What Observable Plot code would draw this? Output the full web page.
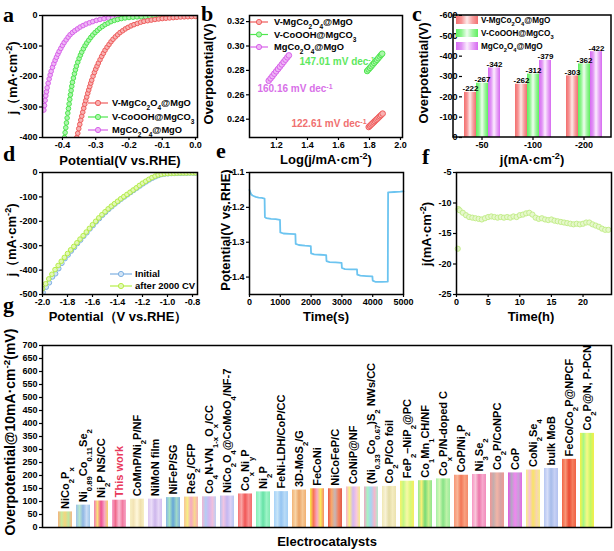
<!DOCTYPE html>
<html><head><meta charset="utf-8">
<script src="https://cdn.jsdelivr.net/npm/d3@7"></script>
<script src="https://cdn.jsdelivr.net/npm/@observablehq/plot@0.6"></script>
<style>
body{margin:0;background:#fff;}
#wrap{position:relative;width:614px;height:551px;overflow:hidden;background:#fff;}
</style></head><body><div id="wrap"></div><script>
// ---------------- DATA ----------------
// panel a: LSV curves [potential V, j mA/cm2]
const aRed = [[-0.357,-400],[-0.354,-386],[-0.351,-371],[-0.348,-357],[-0.345,-343],[-0.342,-330],[-0.339,-317],[-0.336,-304],[-0.333,-291],[-0.330,-279],[-0.327,-267],[-0.324,-255],[-0.321,-244],[-0.318,-233],[-0.315,-222],[-0.312,-212],[-0.308,-199],[-0.304,-187],[-0.300,-176],[-0.296,-166],[-0.292,-156],[-0.287,-145],[-0.282,-134],[-0.277,-124],[-0.272,-114],[-0.266,-104],[-0.260,-95],[-0.254,-86],[-0.248,-78],[-0.241,-70],[-0.234,-63],[-0.227,-56],[-0.219,-50],[-0.211,-44],[-0.203,-39],[-0.194,-34],[-0.185,-30],[-0.175,-26],[-0.165,-22],[-0.155,-19],[-0.144,-17],[-0.133,-15],[-0.122,-13],[-0.111,-11.5],[-0.100,-10],[-0.089,-9],[-0.078,-8],[-0.067,-7],[-0.056,-6],[-0.045,-5],[-0.034,-4.5],[-0.023,-4],[-0.012,-3.5],[0.0,-3]];
const aGreen = [[-0.394,-400],[-0.392,-384],[-0.390,-368],[-0.388,-352],[-0.386,-336],[-0.384,-320],[-0.382,-305],[-0.380,-290],[-0.378,-275],[-0.376,-260],[-0.374,-246],[-0.372,-232],[-0.370,-219],[-0.367,-205],[-0.364,-191],[-0.361,-178],[-0.358,-166],[-0.354,-153],[-0.350,-141],[-0.346,-130],[-0.342,-120],[-0.337,-109],[-0.332,-99],[-0.327,-90],[-0.321,-81],[-0.315,-72],[-0.309,-64],[-0.302,-56],[-0.295,-49],[-0.288,-42],[-0.280,-36],[-0.272,-30],[-0.263,-25],[-0.254,-20],[-0.244,-16],[-0.234,-13],[-0.223,-10],[-0.212,-8],[-0.200,-6.5],[-0.188,-5.5],[-0.176,-4.5],[-0.163,-4],[-0.150,-3.5],[-0.137,-3],[-0.124,-3],[-0.111,-2.5],[-0.098,-2.5],[-0.085,-2],[-0.072,-2],[-0.059,-2],[-0.046,-1.5],[-0.033,-1.5],[-0.020,-1.5],[-0.007,-1],[0.0,-1]];
const aMag = [[-0.456,-310],[-0.454,-295],[-0.452,-278],[-0.450,-263],[-0.448,-250],[-0.446,-237],[-0.443,-222],[-0.440,-208],[-0.437,-195],[-0.434,-183],[-0.430,-170],[-0.426,-158],[-0.422,-147],[-0.418,-137],[-0.414,-127],[-0.410,-118],[-0.405,-108],[-0.400,-98],[-0.395,-89],[-0.389,-80],[-0.383,-71],[-0.377,-63],[-0.370,-56],[-0.363,-50],[-0.355,-44],[-0.347,-38],[-0.338,-33],[-0.329,-28],[-0.319,-24],[-0.309,-20],[-0.298,-16],[-0.287,-13],[-0.275,-10.5],[-0.262,-8.5],[-0.249,-7],[-0.236,-6],[-0.223,-5],[-0.210,-4.5],[-0.197,-4],[-0.184,-3.5],[-0.171,-3],[-0.158,-3],[-0.145,-2.5],[-0.132,-2.5],[-0.119,-2],[-0.106,-2],[-0.093,-2],[-0.080,-1.5],[-0.067,-1.5],[-0.054,-1.5],[-0.041,-1],[-0.028,-1],[-0.015,-1],[0.0,-1]];
const aXTicks = [-0.4,-0.3,-0.2,-0.1,0.0];
const aYTicks = [0,-100,-200,-300,-400];

// panel b: Tafel [log j, overpotential V]
const bRed = [[1.795,0.2336],[1.803,0.2346],[1.811,0.2356],[1.819,0.2365],[1.827,0.2375],[1.835,0.2385],[1.843,0.2395],[1.851,0.2404],[1.859,0.2414],[1.867,0.2424],[1.875,0.2434],[1.885,0.2446]];
const bGreen = [[1.785,0.2795],[1.794,0.2808],[1.803,0.2821],[1.812,0.2834],[1.821,0.2848],[1.830,0.2861],[1.839,0.2874],[1.848,0.2887],[1.857,0.2900],[1.866,0.2914],[1.875,0.2927],[1.882,0.2937]];
const bMag = [[1.150,0.2715],[1.162,0.2734],[1.174,0.2753],[1.186,0.2773],[1.198,0.2792],[1.210,0.2811],[1.222,0.2830],[1.234,0.2849],[1.246,0.2869],[1.258,0.2888],[1.270,0.2907],[1.280,0.2923]];
const bSlopes = ["122.61 mV dec^{-1}","147.01 mV dec^{-1}","160.16 mV dec^{-1}"];
const bXTicks = [1.2,1.4,1.6,1.8,2.0];
const bYTicks = [0.24,0.26,0.28,0.30,0.32];

// panel c: overpotentials at current densities
const seriesNames = ["V-MgCo_{2}O_{4}@MgO","V-CoOOH@MgCO_{3}","MgCo_{2}O_{4}@MgO"];
const cGroups = ["-50","-100","-200"];
const cRedVals = [-222,-262,-303];
const cGreenVals = [-267,-312,-362];
const cMagVals = [-342,-379,-422];
const cYTicks = [0,-100,-200,-300,-400,-500,-600];

// panel d: LSV before/after 2000 CV
const dInitial = [[-1.995,-492],[-1.970,-470],[-1.945,-452],[-1.920,-428],[-1.895,-415],[-1.870,-394],[-1.845,-372],[-1.820,-353],[-1.795,-338],[-1.770,-322],[-1.745,-307],[-1.720,-291],[-1.695,-277],[-1.670,-261],[-1.645,-247],[-1.620,-231],[-1.595,-217],[-1.570,-202],[-1.545,-189],[-1.520,-175],[-1.495,-163],[-1.470,-151],[-1.445,-140],[-1.420,-129],[-1.395,-119],[-1.370,-109],[-1.345,-100],[-1.320,-91],[-1.295,-82],[-1.270,-73],[-1.245,-64],[-1.220,-55],[-1.195,-46],[-1.170,-38],[-1.145,-30],[-1.120,-23],[-1.095,-17],[-1.070,-12],[-1.045,-8],[-1.020,-6],[-0.995,-5],[-0.970,-4],[-0.945,-3.5],[-0.920,-3],[-0.895,-3],[-0.870,-2.5],[-0.845,-2.5],[-0.820,-2],[-0.795,-2],[-0.775,-2]];
const dAfter = [[-2.000,-476],[-1.975,-456],[-1.950,-436],[-1.925,-417],[-1.900,-398],[-1.875,-381],[-1.850,-364],[-1.825,-348],[-1.800,-332],[-1.775,-317],[-1.750,-303],[-1.725,-288],[-1.700,-273],[-1.675,-259],[-1.650,-244],[-1.625,-229],[-1.600,-214],[-1.575,-200],[-1.550,-186],[-1.525,-173],[-1.500,-161],[-1.475,-149],[-1.450,-138],[-1.425,-128],[-1.400,-118],[-1.375,-108],[-1.350,-99],[-1.325,-90],[-1.300,-81],[-1.275,-72],[-1.250,-63],[-1.225,-53],[-1.200,-44],[-1.175,-36],[-1.150,-28],[-1.125,-21],[-1.100,-15],[-1.075,-10],[-1.050,-7],[-1.025,-5],[-1.000,-4],[-0.975,-3],[-0.950,-3],[-0.925,-2.5],[-0.900,-2],[-0.875,-2],[-0.850,-2],[-0.825,-1.5],[-0.800,-1.5],[-0.775,-1.5]];
const dXTicks = [-2.0,-1.8,-1.6,-1.4,-1.2,-1.0,-0.8];
const dYTicks = [0,-100,-200,-300,-400,-500];

// panel e: multi-step chronopotentiometry [time s, potential V]
const ePts = [[0,-1.150],[30,-1.158],[60,-1.163],[100,-1.166],[150,-1.168],[200,-1.170],[300,-1.172],[400,-1.173],[490,-1.175],[500,-1.228],[550,-1.231],[700,-1.233],[850,-1.234],[990,-1.236],[1000,-1.272],[1100,-1.275],[1300,-1.276],[1490,-1.277],[1500,-1.305],[1600,-1.308],[1800,-1.310],[1990,-1.311],[2000,-1.332],[2100,-1.335],[2300,-1.336],[2490,-1.337],[2500,-1.354],[2600,-1.357],[2800,-1.358],[2990,-1.359],[3000,-1.374],[3100,-1.377],[3300,-1.378],[3490,-1.378],[3500,-1.393],[3600,-1.396],[3800,-1.397],[3990,-1.398],[4000,-1.410],[4100,-1.414],[4300,-1.414],[4490,-1.413],[4500,-1.157],[4700,-1.156],[4900,-1.155],[5000,-1.154]];
const eXTicks = [0,1000,2000,3000,4000,5000];
const eYTicks = [-1.1,-1.2,-1.3,-1.4];

// panel f: chronoamperometry [time h, j mA/cm2]
const fPts = [[0.2,-17.5],[0.3,-11.0],[0.5,-11.2],[1.0,-11.6],[1.5,-12.0],[2.0,-12.3],[2.5,-12.4],[3.0,-12.5],[3.5,-12.6],[4.0,-12.7],[4.5,-12.5],[5.0,-12.3],[5.5,-12.2],[6.0,-12.3],[6.5,-12.4],[7.0,-12.3],[7.5,-12.4],[8.0,-12.3],[8.5,-12.4],[9.0,-12.2],[9.5,-12.3],[10.0,-12.0],[10.5,-11.9],[11.0,-11.7],[11.5,-11.6],[12.0,-11.9],[12.5,-12.4],[13.0,-12.6],[13.5,-12.5],[14.0,-12.7],[14.5,-12.8],[15.0,-12.7],[15.5,-12.9],[16.0,-13.0],[16.5,-13.1],[17.0,-13.2],[17.5,-13.3],[18.0,-13.4],[18.5,-13.5],[19.0,-13.4],[19.5,-13.5],[20.0,-13.4],[20.5,-13.2],[21.0,-13.2],[21.5,-13.5],[22.0,-13.7],[22.5,-13.9],[23.0,-14.2],[23.5,-14.4],[24.0,-14.4]];
const fXTicks = [0,5,10,15,20];
const fYTicks = [-5,-10,-15,-20,-25];

// panel g: comparison of overpotential @10 mA cm-2
const gNames = ["NiCo_{2}P_{x}","Ni_{0.89}Co_{0.11}Se_{2}","Ni_{2}P NS/CC","This work","CoMnP/Ni_{2}P/NF","NiMoN film","NiFeP/SG","ReS_{2}/CFP","Co_{4}N-VN_{1-x}O_{x}/CC","NiCo_{2}O_{4}@CoMoO_{4}/NF-7","Co_{x}Ni_{y}P","Ni_{2}P","FeNi-LDH/CoP/CC","3D-MoS_{2}/G","FeCoNi","NiCoFeP/C","CoNiP@NF","(Ni_{0.33}Co_{0.67})S_{2} NWs/CC","Co_{2}P/Co foil","FeP_{2}–NiP_{2}@PC","Co_{1}Mn_{1}CH/NF","Co_{x}P/N-doped C","CoP/Ni_{2}P","Ni_{3}Se_{2}","Co_{2}P/CoNPC","CoP","CoNi_{2}Se_{4}","bulk MoB","FeCo/Co_{2}P@NPCF","Co_{2}P@N, P-PCN"];
const gValues = [60,86,102,105,109,109,115,117,118,121,129,137,138,144,149,149,156,156,158,178,180,187,201,204,210,210,221,227,262,362];
const gYTicks = [0,50,100,150,200,250,300,350,400,450,500,550,600,650,700];

// ---------------- STYLE ----------------
const FONT = "'Liberation Sans', Arial, Helvetica, sans-serif";
const SERIF = "'Liberation Serif', 'Times New Roman', serif";
const COL = {red:"#ef5d5d", redFill:"#f8b2b2", green:"#4fe64f", greenFill:"#acf5ac", mag:"#d862ea", magFill:"#efb6f6",
  blue:"#7eb0e2", blueFill:"#d3e5f6", lime:"#b6ee48", limeFill:"#e2f8b6", eLine:"#6cc4f0", fDot:"#c4ee8c", fFill:"#e6f8cc", work:"#e8385a"};
const cStops = [["#f36f6f","#f79393","#fdeaea","#f7a0a0","#f27070"],["#5ef05e","#8ef58e","#effdef","#9cf59c","#5eef5e"],["#d76af2","#e194f5","#fbeefe","#e8a6f7","#d66af0"]];
const gStops = [
["#f7b27c","#c9ea9c","#f5d47e","#bfe6a0","#f7b884"],["#9cc2ea","#b6e6cf","#8fb6e4","#c9dcf4","#9ec6ea"],["#f27bb0","#f9e07a","#ee4f93","#f7a6c6","#f4d36a"],
["#f7a3cb","#f06a8c","#f9c0d6","#f27aa0","#f6a6c8"],["#f7efc2","#f3e4b6","#fff8dc","#efe0ae","#f7efc4"],["#dcc6f2","#eadcf8","#cdb6ec","#e6d6f6","#d4bff0"],
["#86b6e6","#a6e4c4","#66a6d8","#9fd8c8","#7fb0e2"],["#f7c496","#f7ee86","#f6a6c4","#f8d890","#f5b0b8"],["#f2b4d2","#b6cdf2","#d2b6f0","#f0c0dc","#bcd0f4"],
["#b6c4f0","#f0c4e2","#c4b6f0","#dcd0f6","#b8c6f2"],["#f77272","#f9a4a4","#f15656","#f88e8e","#f46a6a"],["#86f0b6","#a8f8d4","#66e2a6","#9cf4c6","#80eab2"],
["#a6d2f8","#c6e4f8","#94c4f2","#b8daf6","#a2cff6"],["#f2b476","#f8d4a6","#eaa466","#f6c894","#f0b070"],["#f8f046","#f87458","#f8a6c4","#f8e85c","#f88a66"],
["#e8584a","#f8a66a","#c6b6b6","#f08060","#e25a48"],["#f8b4d4","#f8f086","#d4b6f2","#f8c8dc","#f6ea8a"],["#f2a6c4","#a6f2c6","#a6d4f2","#f4b6cc","#b0eccc"],
["#f0e8b4","#f8f2d6","#e4dca6","#f4ecc0","#ebe2ae"],["#f8f266","#c4f886","#f8f8a6","#d8f878","#f6ee60"],["#94e894","#f8f076","#76da76","#c8f08a","#8ee48e"],
["#a6f0a6","#d4f8b6","#86e286","#bdf2a8","#9cec9c"],["#f89676","#f8b496","#f27656","#f8a080","#f48a6a"],["#f896c4","#f8c6da","#ec76aa","#f6a8cc","#f28cbc"],
["#f09696","#c4aeae","#f2b4a6","#d6a4a4","#ee9a94"],["#e256e2","#b6a6c6","#f086f0","#c8a0d8","#e466e4"],["#f8f086","#f8c6d6","#f8e466","#f8d4b0","#f6ee80"],
["#b6c6f2","#d6ddf8","#a6bcea","#c6d0f4","#b2c2f0"],["#f26646","#f89676","#ea4c34","#f47e5e","#f06244"],["#f8f046","#a6f886","#f8f886","#c4f866","#f6ee4a"]];

const wrap = document.getElementById("wrap");
const baseStyle = {background:"transparent", fontFamily:FONT, fontSize:"9px", fontWeight:"bold", color:"#000", overflow:"visible"};
const AX = {tickSize:3, tickPadding:2, label:null, strokeWidth:1.2};
const AXB = {...AX, tickPadding:1};
const FRAME = {stroke:"#000", strokeWidth:1.5};

// rich text: _{sub} and ^{sup}
function rich(sel, str) {
  sel.text(null);
  const re = /([_^])\{([^}]*)\}/g;
  let last = 0, m;
  while ((m = re.exec(str))) {
    if (m.index > last) sel.append("tspan").text(str.slice(last, m.index));
    sel.append("tspan").attr("baseline-shift", m[1] === "_" ? "sub" : "super").attr("font-size", "70%").text(m[2]);
    last = re.lastIndex;
  }
  if (last < str.length) sel.append("tspan").text(str.slice(last));
}
function richify(root) {
  d3.select(root).selectAll("text").each(function() {
    if (this.children.length === 0 && /[_^]\{/.test(this.textContent)) rich(d3.select(this), this.textContent);
  });
}
function place(svg, left, top) {
  svg.style.position = "absolute"; svg.style.left = left + "px"; svg.style.top = top + "px"; svg.style.maxWidth = "none";
  wrap.appendChild(svg); richify(svg);
}
const px = d => d[0], py = d => d[1];
function curve(data, stroke, fill, r, extra = {}) {
  return [Plot.line(data, {x: px, y: py, stroke, strokeWidth: 1, clip: true, ...extra}),
          Plot.dot(data, {x: px, y: py, r, stroke, fill, strokeWidth: 1, clip: true})];
}

// ---------------- OVERLAY (defs, labels, legends) ----------------
const ov = d3.create("svg").attr("width", 614).attr("height", 551)
  .style("position", "absolute").style("left", "0px").style("top", "0px").style("pointer-events", "none")
  .attr("font-family", FONT).attr("font-weight", "bold");
const defs = ov.append("defs");
function grad(id, stops) {
  const g = defs.append("linearGradient").attr("id", id).attr("x1", 0).attr("x2", 1).attr("y1", 0).attr("y2", 0);
  stops.forEach((c, k) => g.append("stop").attr("offset", k / (stops.length - 1)).attr("stop-color", c));
}
cStops.forEach((s, i) => grad("cg" + i, s));
gStops.forEach((s, i) => grad("gb" + i, s));

// ---------------- PANEL A ----------------
place(Plot.plot({
  width: 200, height: 152, marginLeft: 42, marginRight: 3, marginTop: 15, marginBottom: 15,
  x: {domain: [-0.46, 0.006]}, y: {domain: [-400, 0]}, style: baseStyle,
  marks: [
    Plot.axisX({...AXB, ticks: aXTicks, tickFormat: d => d.toFixed(1)}),
    Plot.axisY({...AX, ticks: aYTicks, tickFormat: d => String(d)}),
    ...curve(aMag, COL.mag, COL.magFill, 2.3),
    ...curve(aGreen, COL.green, COL.greenFill, 2.3),
    ...curve(aRed, COL.red, COL.redFill, 2.3),
    Plot.frame(FRAME)
  ]
}), 0, 0);

// ---------------- PANEL B ----------------
place(Plot.plot({
  width: 205, height: 152, marginLeft: 49, marginRight: 3, marginTop: 15, marginBottom: 15,
  x: {domain: [1.026, 2.013]}, y: {domain: [0.225, 0.325]}, style: baseStyle,
  marks: [
    Plot.axisX({...AXB, ticks: bXTicks, tickFormat: d => d.toFixed(1)}),
    Plot.axisY({...AX, ticks: bYTicks, tickFormat: d => d.toFixed(2)}),
    ...curve(bMag, COL.mag, COL.magFill, 2.8),
    ...curve(bGreen, COL.green, COL.greenFill, 2.8),
    ...curve(bRed, COL.red, COL.redFill, 2.8),
    Plot.frame(FRAME)
  ]
}), 200, 0);

// ---------------- PANEL C ----------------
const cRows = [];
cGroups.forEach((g, k) => {
  cRows.push({group: g, series: seriesNames[0], value: cRedVals[k], s: 0});
  cRows.push({group: g, series: seriesNames[1], value: cGreenVals[k], s: 1});
  cRows.push({group: g, series: seriesNames[2], value: cMagVals[k], s: 2});
});
place(Plot.plot({
  width: 209, height: 152, marginLeft: 48, marginRight: 3, marginTop: 15, marginBottom: 15,
  fx: {domain: cGroups, paddingInner: 0.24, paddingOuter: 0.154},
  x: {domain: seriesNames, padding: 0.03, axis: null},
  y: {domain: [0, -600]},
  color: {type: "identity"}, style: baseStyle,
  marks: [
    Plot.axisFx({anchor: "bottom", ...AXB}),
    Plot.axisY({...AX, ticks: cYTicks, tickFormat: d => String(d)}),
    Plot.barY(cRows, {fx: "group", x: "series", y: "value", fill: d => `url(#cg${d.s})`}),
    Plot.text(cRows, {fx: "group", x: "series", y: "value", text: d => String(d.value), lineAnchor: "bottom", dy: -1, fontSize: 8})
  ]
}), 405, 0);

// ---------------- PANEL D ----------------
place(Plot.plot({
  width: 200, height: 150, marginLeft: 42, marginRight: 3, marginTop: 12, marginBottom: 16,
  x: {domain: [-2.0, -0.76]}, y: {domain: [-500, 0]}, style: baseStyle,
  marks: [
    Plot.axisX({...AXB, ticks: dXTicks, tickFormat: d => d.toFixed(1)}),
    Plot.axisY({...AX, ticks: dYTicks, tickFormat: d => String(d)}),
    ...curve(dInitial, COL.blue, COL.blueFill, 2.3),
    ...curve(dAfter, COL.lime, COL.limeFill, 2.3),
    Plot.frame(FRAME)
  ]
}), 0, 160);

// ---------------- PANEL E ----------------
place(Plot.plot({
  width: 205, height: 150, marginLeft: 49, marginRight: 2, marginTop: 12, marginBottom: 16,
  x: {domain: [0, 5000]}, y: {domain: [-1.45, -1.1]}, style: baseStyle,
  marks: [
    Plot.axisX({...AXB, ticks: eXTicks, tickFormat: d => String(d)}),
    Plot.axisY({...AX, ticks: eYTicks, tickFormat: d => d.toFixed(1)}),
    Plot.line(ePts, {x: px, y: py, stroke: COL.eLine, strokeWidth: 1.8}),
    Plot.frame(FRAME)
  ]
}), 200, 160);

// ---------------- PANEL F ----------------
place(Plot.plot({
  width: 209, height: 150, marginLeft: 51, marginRight: 3, marginTop: 12, marginBottom: 16,
  x: {domain: [0, 24.5]}, y: {domain: [-25, -5]}, style: baseStyle,
  marks: [
    Plot.axisX({...AXB, ticks: fXTicks, tickFormat: d => String(d)}),
    Plot.axisY({...AX, ticks: fYTicks, tickFormat: d => String(d)}),
    Plot.dot(fPts, {x: px, y: py, r: 2.6, stroke: COL.fDot, fill: COL.fFill, strokeWidth: 1}),
    Plot.frame(FRAME)
  ]
}), 405, 160);

// ---------------- PANEL G ----------------
const gRows = gNames.map((name, i) => ({name, value: gValues[i], i}));
place(Plot.plot({
  width: 614, height: 200, marginLeft: 42, marginRight: 3, marginTop: 10, marginBottom: 8,
  x: {domain: gNames, paddingInner: 0.21, paddingOuter: 0.6, axis: null},
  y: {domain: [0, 700]}, color: {type: "identity"}, style: baseStyle,
  marks: [
    Plot.axisY({...AX, ticks: gYTicks, tickFormat: d => String(d)}),
    Plot.barY(gRows, {x: "name", y: "value", fill: d => `url(#gb${d.i})`}),
    Plot.text(gRows, {x: "name", y: "value", text: "name", rotate: -90, textAnchor: "start", dy: -3, fontSize: 11,
      fill: d => d.name === "This work" ? COL.work : "#000"}),
    Plot.frame(FRAME)
  ]
}), 0, 335);

// ---------------- OVERLAY TEXT ----------------
function label(txt, x, y, o = {}) {
  const {size = 13, rotate = 0, anchor = "middle", fill = "#000", family = FONT, dy = null} = o;
  const t = ov.append("text").attr("transform", `translate(${x},${y})${rotate ? ` rotate(${rotate})` : ""}`)
    .attr("text-anchor", anchor).attr("font-size", size).attr("fill", fill).attr("font-family", family);
  if (dy) t.attr("dy", dy);
  rich(t, txt);
  return t;
}
// panel letters
[["a",3,22],["b",201,21],["c",412,21],["d",3,161],["e",216,158],["f",422,164],["g",3,312]]
  .forEach(([s, x, y]) => label(s, x, y, {size: 22, anchor: "start", family: SERIF}));

// axis titles
label("Potential(V vs.RHE)", 120, 165);
label("j（mA·cm^{-2})", 17, 78, {rotate: -90});
label("Log(j/mA·cm^{-2})", 326, 164);
label("Overpotential(V)", 213, 74, {rotate: -90});
label("j(mA·cm^{-2})", 532, 164);
label("Overpotential(V)", 428, 73, {rotate: -90});
label("Potential（V vs.RHE）", 118, 321);
label("j（mA·cm^{-2})", 16, 240, {rotate: -90});
label("Time(s)", 326, 321);
label("Potential(V vs.RHE)", 230, 230, {rotate: -90});
label("Time(h)", 531, 321);
label("j(mA·cm^{-2})", 431, 234, {rotate: -90});
label("Overpotential@10mA·cm^{-2}(mV)", 15, 432, {rotate: -90, size: 14});
label("Electrocatalysts", 327, 546);

// line+marker legends
function lineLegend(items, x0, x1, tx, size) {
  items.forEach(([txt, stroke, fill, y]) => {
    ov.append("line").attr("x1", x0).attr("x2", x1).attr("y1", y).attr("y2", y).attr("stroke", stroke).attr("stroke-width", 1.2);
    ov.append("circle").attr("cx", (x0 + x1) / 2).attr("cy", y).attr("r", 2.6).attr("stroke", stroke).attr("fill", fill);
    label(txt, tx, y, {size, anchor: "start", dy: "0.35em"});
  });
}
lineLegend([[seriesNames[0], COL.red, COL.redFill, 103], [seriesNames[1], COL.green, COL.greenFill, 117], [seriesNames[2], COL.mag, COL.magFill, 130]], 88, 108, 112, 9.3);
lineLegend([[seriesNames[0], COL.red, COL.redFill, 22], [seriesNames[1], COL.green, COL.greenFill, 34.5], [seriesNames[2], COL.mag, COL.magFill, 47]], 250, 268, 274, 9.3);
lineLegend([["Initial", COL.blue, COL.blueFill, 274], ["after 2000 CV", COL.lime, COL.limeFill, 286]], 110, 132, 135, 9.5);

// panel c legend + frame
[[20, 0], [33, 1], [46, 2]].forEach(([y, s]) => {
  ov.append("rect").attr("x", 456).attr("y", y - 4).attr("width", 22).attr("height", 8).attr("fill", `url(#cg${s})`);
  label(seriesNames[s], 481, y, {size: 8.2, anchor: "start", dy: "0.35em"});
});
ov.append("rect").attr("x", 453).attr("y", 15).attr("width", 158).attr("height", 122).attr("fill", "none").attr("stroke", "#000").attr("stroke-width", 1.5);

// Tafel slope annotations
label(bSlopes[1], 337, 65, {size: 10, fill: "#5ee85e"});
label(bSlopes[2], 295, 92, {size: 10, fill: "#d870e8"});
label(bSlopes[0], 329, 127, {size: 10, fill: "#f07070"});

wrap.appendChild(ov.node());
</script></body></html>
